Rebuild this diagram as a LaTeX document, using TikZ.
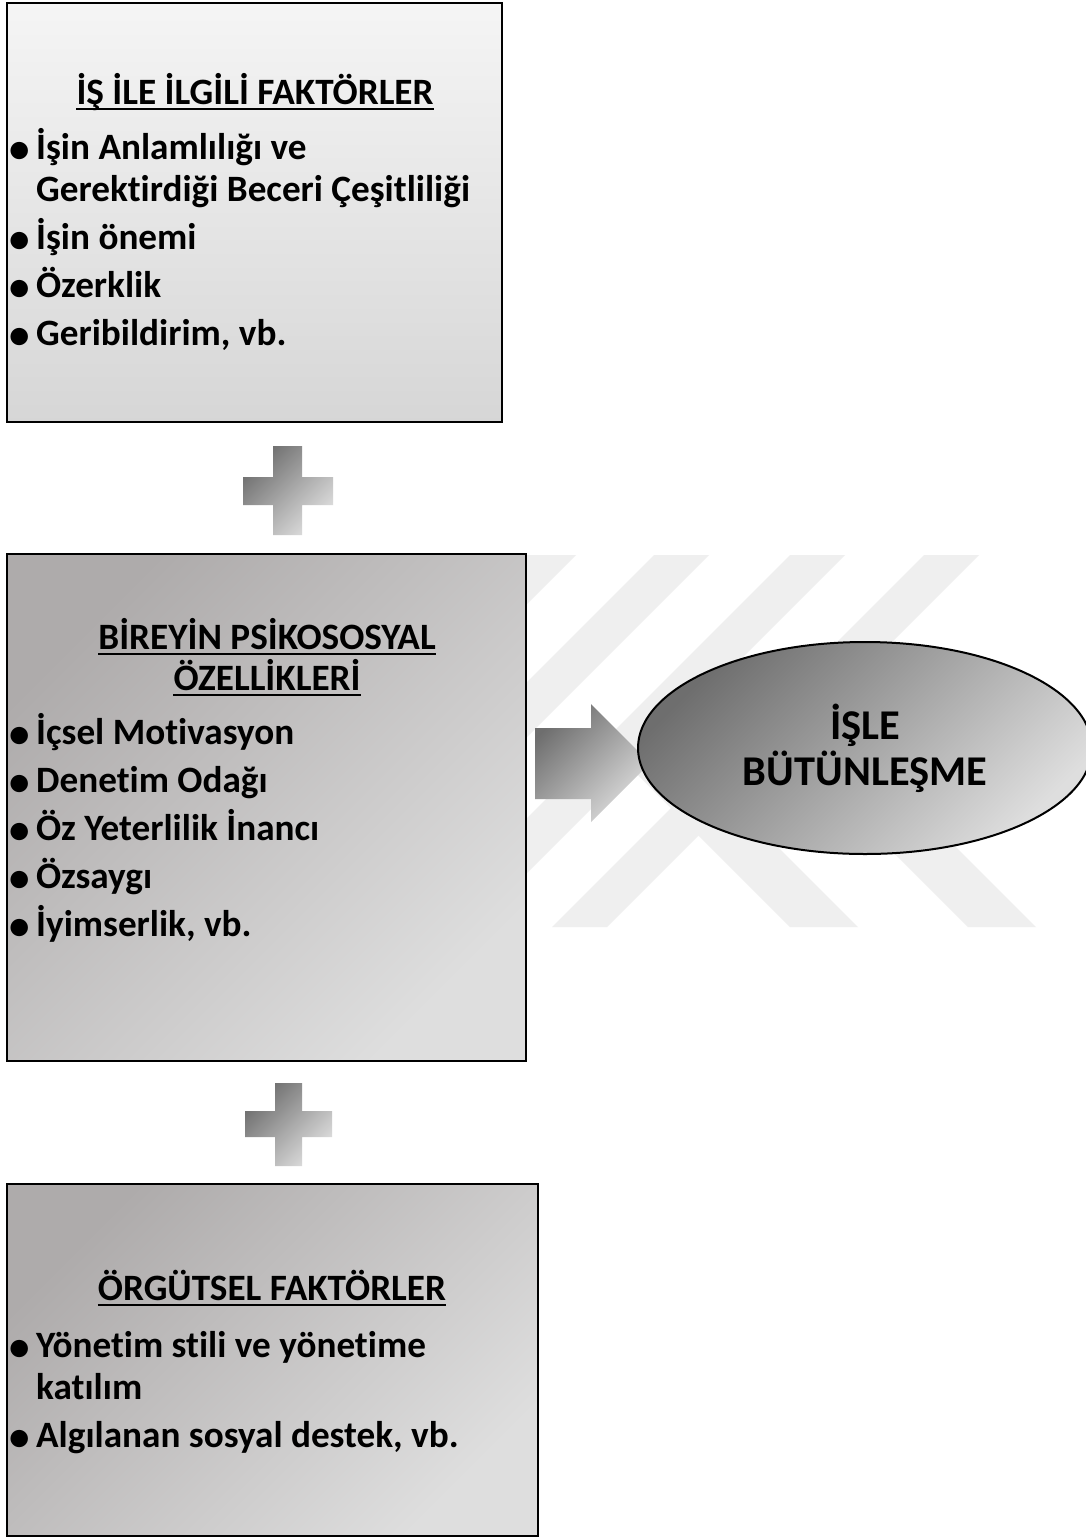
\documentclass[tikz,border=0pt]{standalone}
\usepackage{fontspec}
\setmainfont{Carlito}[BoldFont={Carlito Bold}, Ligatures=NoCommon]
\usetikzlibrary{shapes.geometric}

\definecolor{stripegray}{RGB}{239,239,239}
\definecolor{darkA}{RGB}{110,110,110}
\definecolor{lightA}{RGB}{222,222,222}
\definecolor{boxdark}{RGB}{174,171,171}
\definecolor{boxlight}{RGB}{222,222,222}

\newcommand{\bodyfont}{\fontsize{37.2}{42}\selectfont\bfseries}
\newcommand{\bulletfont}{\fontsize{41}{42}\selectfont\bfseries}
\newcommand{\bigfont}{\fontsize{42.4}{46}\selectfont\bfseries}

\tikzset{
  frame/.style={draw=black, line width=2pt},
  line/.style={anchor=base west, inner sep=0pt, font=\bodyfont},
  title/.style={anchor=base, inner sep=0pt, font=\bodyfont},
  dot/.style={anchor=base west, inner sep=0pt, font=\bulletfont},
  uline/.style={line width=2pt},
  grey shade/.style={shade, top color=darkA, bottom color=lightA, shading angle=45},
}

\begin{document}
\begin{tikzpicture}[x=1pt, y=-1pt]
\useasboundingbox (0,0) rectangle (1086,1537);
\fill[white] (0,0) rectangle (1086,1537);

% faint striped emblem behind the right half
\begin{scope}
  \clip (526,555) rectangle (1045,927);
  \foreach \a in {521,654,790,924} {
    \fill[stripegray] (\a,555) -- (\a+55,555) -- (\a+55-372,927) -- (\a-372,927) -- cycle;
  }
  \foreach \b in {790,968} {
    \fill[stripegray] (\b,927) -- (\b+68,927) -- (\b+68-186,741) -- (\b-186,741) -- cycle;
  }
\end{scope}

% first box: job related factors
\path[frame, shade, top color=white!96!black, bottom color=black!16] (7,3) rectangle (502,422);
\node[title] (h1) at (255,104) {İŞ İLE İLGİLİ FAKTÖRLER};
\draw[uline] ([yshift=-5pt]h1.base west) -- ([yshift=-5pt]h1.base east);
\node[dot] (b11) at (9,162) {•};
\node[line] (t11) at (36,159) {İşin Anlamlılığı ve};
\node[line] (t12) at (36,201) {Gerektirdiği Beceri Çeşitliliği};
\node[dot] (b12) at (9,252) {•};
\node[line] (t13) at (36,249) {İşin önemi};
\node[dot] (b13) at (9,300) {•};
\node[line] (t14) at (36,297) {Özerklik};
\node[dot] (b14) at (9,348) {•};
\node[line] (t15) at (36,345) {Geribildirim, vb.};

% plus sign between first and second box
\path[grey shade] (273,446) -- (302,446) -- (302,477) -- (333,477) -- (333,505) -- (302,505)
  -- (302,535) -- (273,535) -- (273,505) -- (243,505) -- (243,477) -- (273,477) -- cycle;

% second box: psychosocial traits
\path[frame, shade, top color=boxdark, bottom color=boxlight, shading angle=45] (7,554) rectangle (526,1061);
\node[title] (h2) at (267,649) {BİREYİN PSİKOSOSYAL};
\draw[uline] ([yshift=-5pt]h2.base west) -- ([yshift=-5pt]h2.base east);
\node[title] (h3) at (267,690) {ÖZELLİKLERİ};
\draw[uline] ([yshift=-5pt]h3.base west) -- ([yshift=-5pt]h3.base east);
\node[dot] (b21) at (9,747) {•};
\node[line] (t21) at (36,744) {İçsel Motivasyon};
\node[dot] (b22) at (9,795) {•};
\node[line] (t22) at (36,792) {Denetim Odağı};
\node[dot] (b23) at (9,843) {•};
\node[line] (t23) at (36,840) {Öz Yeterlilik İnancı};
\node[dot] (b24) at (9,891) {•};
\node[line] (t24) at (36,888) {Özsaygı};
\node[dot] (b25) at (9,939) {•};
\node[line] (t25) at (36,936) {İyimserlik, vb.};

% block arrow towards the outcome
\path[grey shade] (535,728) -- (591,728) -- (591,704) -- (650,763) -- (591,822) -- (591,799)
  -- (535,799) -- cycle;

% outcome
\node[ellipse, draw=black, line width=2pt, minimum width=454pt, minimum height=212pt,
      inner sep=0pt, grey shade, align=center, font=\bigfont] (out) at (865,748)
      {İŞLE\\BÜTÜNLEŞME};

% plus sign between second and third box
\path[grey shade] (275,1083) -- (302,1083) -- (302,1111) -- (332,1111) -- (332,1137) -- (302,1137)
  -- (302,1166) -- (275,1166) -- (275,1137) -- (245,1137) -- (245,1111) -- (275,1111) -- cycle;

% third box: organisational factors
\path[frame, shade, top color=boxdark, bottom color=boxlight, shading angle=45] (7,1184) rectangle (538,1536);
\node[title] (h4) at (272,1300) {ÖRGÜTSEL FAKTÖRLER};
\draw[uline] ([yshift=-5pt]h4.base west) -- ([yshift=-5pt]h4.base east);
\node[dot] (b31) at (9,1360) {•};
\node[line] (t31) at (36,1357) {Yönetim stili ve yönetime};
\node[line] (t32) at (36,1399) {katılım};
\node[dot] (b32) at (9,1450) {•};
\node[line] (t33) at (36,1447) {Algılanan sosyal destek, vb.};
\end{tikzpicture}
\end{document}
